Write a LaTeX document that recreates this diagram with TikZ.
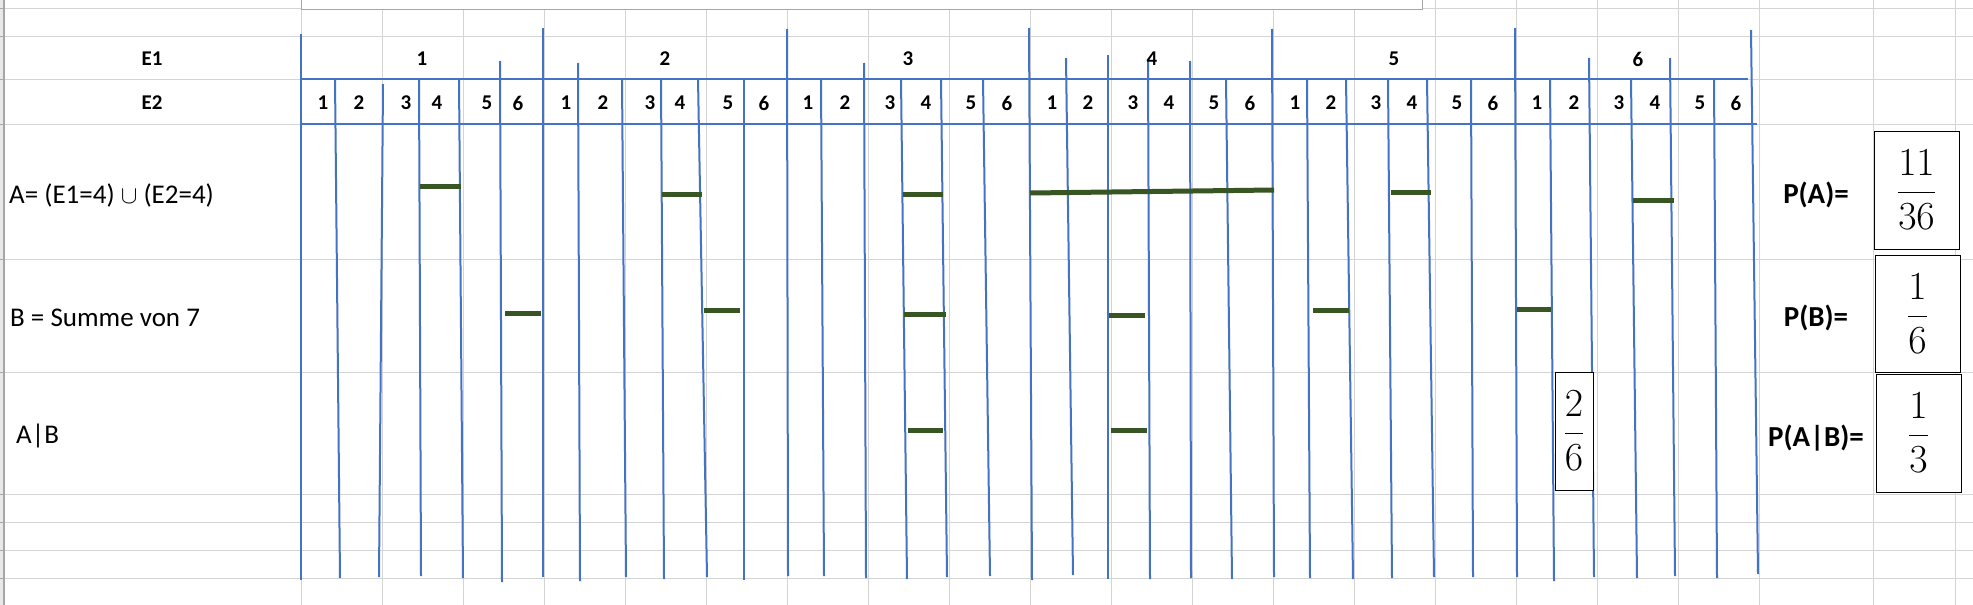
\documentclass[tikz,border=0pt]{standalone}
\usepackage{fontspec}
\usepackage{graphicx}
\setsansfont{Carlito}
\definecolor{gridgray}{HTML}{D4D4D4}
\definecolor{edgegray}{HTML}{A6A6A6}
\definecolor{penblue}{HTML}{4472C4}
\definecolor{bargreen}{HTML}{375623}
\newcommand{\bigfrac}[2]{\scalebox{1.6}{$\displaystyle\frac{#1}{#2}$}}
\begin{document}
\begin{tikzpicture}[x=1pt,y=-1pt,
  cell/.style={gridgray,line width=1pt},
  pen/.style={penblue,line width=2pt},
  bar/.style={bargreen,line width=5pt},
  hdr/.style={inner sep=0pt,font=\sffamily\bfseries\fontsize{21}{25}\selectfont},
  rowlbl/.style={inner sep=0pt,anchor=west,font=\sffamily\fontsize{27}{32}\selectfont},
  plbl/.style={inner sep=0pt,font=\sffamily\bfseries\fontsize{29}{34}\selectfont},
  fracbox/.style={draw=black,line width=1pt,fill=white,inner sep=0pt,font=\fontsize{24.88}{30}\selectfont}]
\useasboundingbox (0,0) rectangle (1973,605);
\fill[white] (0,0) rectangle (1973,605);
% sheet grid
\foreach \y in {8,36,79,124,259,372,494,522,550,578}
  \draw[cell] (4,\y)--(1973,\y);
\foreach \k in {0,...,18}
  \draw[cell] (301+81*\k,0)--(301+81*\k,605);
\foreach \x in {1873,1955}
  \draw[cell] (\x,0)--(\x,605);
\filldraw[fill=white,draw=edgegray,line width=1pt] (301,-3) rectangle (1422,9);
% row headers
\fill[gray!18] (0,0) rectangle (4,605);
\draw[edgegray,line width=1.5pt] (4,0)--(4,605);
\foreach \y in {8,36,79,124,259,372,494,522,550,578}
  \draw[edgegray,line width=1pt] (0,\y)--(4,\y);
% pen lines
\draw[pen](301,79)--(1748,79);
\draw[pen](301,124)--(1757,124);
\foreach \xa/\ya/\xb/\yb in {301/34/301/580, 335/79/340/578, 383/84/379/577,
  419/79/421/576, 459/79/463/578, 500/61/502/582, 543/28/543/577,
  578/63/580/581, 622/79/626/577, 661/79/664/579, 698/79/707/577,
  744/79/744/580, 787/29/788/576, 821/79/824/576, 864/63/866/578,
  901/79/907/579, 941/79/947/577, 983/79/990/576, 1029/28/1032/580,
  1066/58/1073/575, 1108/55/1108/579, 1148/60/1150/579, 1190/61/1191/578,
  1226/79/1232/579, 1272/29/1274/577, 1307/79/1310/578, 1346/79/1353/579,
  1388/79/1392/578, 1427/79/1434/577, 1471/79/1473/577, 1515/28/1517/577,
  1550/79/1554/581, 1589/58/1594/577, 1631/79/1637/578, 1670/58/1675/576,
  1714/79/1717/578, 1751/30/1758/574}
  \draw[pen](\xa,\ya)--(\xb,\yb);
% marks
\foreach \xa/\ya/\xb/\yb in {420/186/461/186, 662/194/702/194, 903/194/943/194,
  1030/193/1274/190, 1391/192/1431/192, 1633/200/1674/200,
  505/313/541/313, 704/310/740/310, 904/314/946/314, 1109/315/1145/315,
  1313/310/1349/310, 1517/309/1551/309,
  908/430/943/430, 1111/430/1147/430}
  \draw[bar](\xa,\ya)--(\xb,\yb);
% headings
\node[hdr] (e1) at (152,59) {E1};
\node[hdr] (e2) at (152,103) {E2};
\foreach \x [count=\i] in {422,665,908,1152,1394,1638}
  \node[hdr] (e1-\i) at (\x,59) {\i};
\foreach \x [count=\n from 0] in {323,359,406,437,487,518,
  566,603,650,680,728,764, 808,845,890,926,971,1007,
  1052,1088,1133,1169,1214,1250, 1295,1331,1376,1412,1457,1493,
  1537,1574,1619,1655,1700,1736}{
  \pgfmathtruncatemacro\d{mod(\n,6)+1}
  \node[hdr] (e2-\n) at (\x,103) {\d};
}
\node[rowlbl] (rowa) at (9,195) {A= (E1=4) $\cup$ (E2=4)};
\node[rowlbl] (rowb) at (10,318) {B = Summe von 7};
\node[rowlbl] (rowab) at (16,436) {A|B};
% results
\node[plbl] (pa) at (1816,195) {P(A)=};
\node[plbl] (pb) at (1816,318) {P(B)=};
\node[plbl] (pab) at (1816,438) {P(A|B)=};
\node[fracbox,minimum width=85,minimum height=118] (fa) at (1916.5,190) {\bigfrac{11}{36}};
\node[fracbox,minimum width=85,minimum height=117] (fb) at (1917.5,313.5) {\bigfrac{1}{6}};
\node[fracbox,minimum width=85,minimum height=118] (fab) at (1918.5,433) {\bigfrac{1}{3}};
\node[fracbox,minimum width=38,minimum height=118] (fcnt) at (1574,431) {\bigfrac{2}{6}};
\end{tikzpicture}
\end{document}
